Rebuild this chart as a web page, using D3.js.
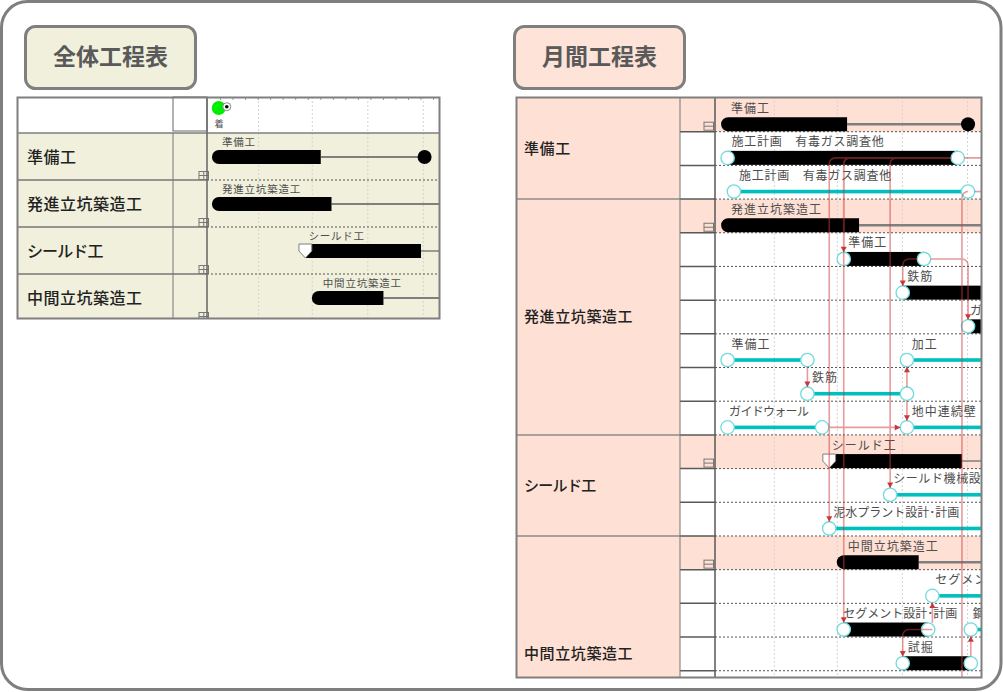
<!DOCTYPE html>
<html lang="ja">
<head>
<meta charset="utf-8">
<title>工程表</title>
<script src="https://cdn.jsdelivr.net/npm/d3@7"></script>
<style>
  html, body { margin: 0; padding: 0; background: #fff; }
  svg { display: block; }
  text { font-family: "Noto Sans CJK JP", "Noto Sans", sans-serif; }
</style>
</head>
<body>
<svg id="chart" width="1003" height="692"></svg>
<script>
// data, all times in days from the start of the schedule
const monthDays = [28, 58, 89, 120];

const overallNames = ['準備工', '発進立坑築造工', 'シールド工', '中間立坑築造工'];
const overallStarts = [2.2, 2.2, 54.4, 58];
const overallDone = [63, 69, 119, 98];
const overallEnds = [121, 140, 140, 140];
const overallKinds = ['round', 'round', 'shield', 'round'];
const overallStartMark = 6;
const overallTargetMark = 10.5;
const overallStartLabel = '着';

const monthlyGroups = ['準備工', '発進立坑築造工', 'シールド工', '中間立坑築造工'];
const monthlyGroupRows = [3, 7, 3, 7];

const summaryRows = [0, 3, 10, 13];
const summaryNames = ['準備工', '発進立坑築造工', 'シールド工', '中間立坑築造工'];
const summaryStarts = [2.9, 2.9, 54.4, 58];
const summaryDone = [62.9, 68.6, 117.6, 97];
const summaryEnds = [120.5, 140, 140, 140];
const summaryKinds = ['round', 'round', 'shield', 'round'];

const taskRows = [1, 2, 4, 5, 6, 7, 7, 8, 9, 9, 11, 12, 14, 15, 15, 16];
const taskNames = ['施工計画　有毒ガス調査他', '施工計画　有毒ガス調査他', '準備工', '鉄筋', 'ガ', '準備工', '加工', '鉄筋',
  'ガイドウォール', '地中連続壁', 'シールド機械設', '泥水プラント設計･計画', 'セグメン', 'セグメント設計･計画', '鋼', '試掘'];
const taskStarts = [6, 9, 61.3, 89.4, 120.5, 6, 91.4, 44, 6, 91.4, 83.4, 54.4, 103.5, 61.3, 121.8, 89.4];
const taskEnds = [115.6, 120.5, 99.5, 140, 140, 44, 140, 91.4, 51, 140, 140, 140, 140, 101.5, 140, 121.8];
const taskKinds = ['actual', 'plan', 'actual', 'actual', 'actual', 'plan', 'plan', 'plan', 'plan', 'plan', 'plan', 'plan',
  'plan', 'actual', 'plan', 'actual'];

// from day, from row, to day, to row, arrow head
const links = [
  [112.4, 1, 54.4, 12, true],
  [112.4, 1, 61.3, 4, true],
  [112.4, 1, 61.3, 15, true],
  [112.4, 1, 83.4, 11, true],
  [115.6, 1, 140, 1, false],
  [120.5, 2, 140, 2, false],
  [120.5, 2, 117.6, 18, false],
  [96.3, 4, 89.4, 5, true],
  [102.7, 4, 120.5, 6, true],
  [44, 7, 44, 8, true],
  [91.4, 8, 91.4, 7, true],
  [91.4, 8, 91.4, 9, true],
  [51, 9, 91.4, 9, true],
  [103.5, 15, 103.5, 14, true],
  [103.5, 15, 89.4, 16, true],
  [121.8, 16, 121.8, 15, true]
];

// layout
const overallPanel = {x0: 17, x1: 173, x2: 207, x3: 440, y0: 97, y1: 319, head: 133};
const monthlyPanel = {x0: 516, x1: 680, x2: 715, x3: 982, y0: 97, y1: 678, rowTop: 98};
const overallLabelDx = [10, 10, 3, 11];
const overallNameSpacing = [0.5, 0.5, -0.9, 0.5];
const summaryLabelDx = [10, 10, 2.5, 11];
const monthlyNameSpacing = [0.6, 0.6, -0.7, 0.6];
const taskLabelDx = [4, 5, 4.5, 4.5, 2, 4, 4.7, 4.5, 1.5, 4.7, 3, 4, 3, -0.5, 2, 5];
const taskLabelSpacing = [0.75, 0.75, 1, 1, 1, 1, 1, 1, -0.7, 1, 0.6, 0, 1, 0, 1, 1];
const beige = '#f0f0dc';
const salmon = '#ffe0d4';
const frameGrey = '#7f7f7f';
const lineGrey = '#595959';
const circleR = 6.7;

const svg = d3.select('#chart');
const defs = svg.append('defs');

const xOverall = d3.scaleLinear().domain([0, 120]).range([208, 422.8]);
const yOverall = d3.scaleLinear().domain([0, 1]).range([overallPanel.head, overallPanel.head + 47]);
const xMonthly = d3.scaleLinear().domain([0, 120]).range([715, 967]);
const yMonthly = d3.scaleLinear().domain([0, 1]).range([monthlyPanel.rowTop, monthlyPanel.rowTop + 33.69]);
const barY = r => yMonthly(r + 1) - 7.5;
const overallBarY = r => yOverall(r) + 24;

defs.append('clipPath').attr('id', 'clip-overall').append('rect')
  .attr('x', overallPanel.x2).attr('y', overallPanel.y0)
  .attr('width', overallPanel.x3 - overallPanel.x2 - 1).attr('height', overallPanel.y1 - overallPanel.y0);
defs.append('clipPath').attr('id', 'clip-monthly').append('rect')
  .attr('x', monthlyPanel.x2).attr('y', monthlyPanel.y0)
  .attr('width', monthlyPanel.x3 - monthlyPanel.x2 - 1).attr('height', monthlyPanel.y1 - monthlyPanel.y0);
defs.append('clipPath').attr('id', 'clip-overall-all').append('rect')
  .attr('x', overallPanel.x0).attr('y', overallPanel.y0)
  .attr('width', overallPanel.x3 - overallPanel.x0).attr('height', overallPanel.y1 - overallPanel.y0);

// outer frame
svg.append('rect')
  .attr('x', 1.5).attr('y', 1.5).attr('width', 999.5).attr('height', 688)
  .attr('rx', 26).attr('fill', '#fff').attr('stroke', frameGrey).attr('stroke-width', 3);

function titleBox(x, fill, label) {
  svg.append('rect')
    .attr('x', x).attr('y', 26.5).attr('width', 170).attr('height', 62).attr('rx', 10)
    .attr('fill', fill).attr('stroke', frameGrey).attr('stroke-width', 3);
  svg.append('text')
    .attr('x', x + 85).attr('y', 64.5).attr('text-anchor', 'middle')
    .attr('font-size', 23).attr('font-weight', 700).attr('fill', '#595959')
    .text(label);
}
titleBox(25.5, beige, '全体工程表');
titleBox(514.5, '#fde3d8', '月間工程表');

function hLine(g, x0, x1, y, stroke, width, dash) {
  g.append('line').attr('x1', x0).attr('x2', x1).attr('y1', y).attr('y2', y)
    .attr('stroke', stroke).attr('stroke-width', width).attr('stroke-dasharray', dash || null);
}
function vLine(g, x, y0, y1, stroke, width) {
  g.append('line').attr('x1', x).attr('x2', x).attr('y1', y0).attr('y2', y1)
    .attr('stroke', stroke).attr('stroke-width', width);
}

// month grid is an axis with long ticks and no labels
function monthGrid(g, x, top, bottom) {
  const axis = g.append('g')
    .attr('transform', `translate(0,${top})`)
    .call(d3.axisBottom(x).tickValues(monthDays).tickSize(bottom - top).tickFormat(''));
  axis.select('.domain').remove();
  axis.selectAll('line').attr('stroke', '#d4d4d4').attr('stroke-dasharray', '2,2');
}

function expander(g, x, y, split) {
  g.append('rect').attr('x', x).attr('y', y).attr('width', 9.5).attr('height', 8)
    .attr('fill', 'none').attr('stroke', '#777').attr('stroke-width', 1);
  hLine(g, x, x + 9.5, y + 4, '#777', 1);
  if (split) vLine(g, x + 4.75, y, y + 8, '#777', 1);
}

// summary bar: rounded or shield shaped head, then a thin line to the end date
function summaryBar(g, x, y, start, done, end, kind, lineWidth) {
  const x0 = x(start), x1 = x(done), h = 7;
  if (kind === 'shield') {
    hLine(g, x1, x(end), y, frameGrey, 1.5);
    g.append('rect').attr('x', x0).attr('y', y - h).attr('width', x1 - x0).attr('height', h * 2).attr('fill', '#000');
    const s = 6.4;
    g.append('path')
      .attr('d', `M${x0 - s},${y - h}H${x0 + s}V${y}L${x0},${y + h}L${x0 - s},${y}Z`)
      .attr('fill', '#fff').attr('stroke', frameGrey).attr('stroke-width', 1);
  } else {
    hLine(g, x1, x(end), y, frameGrey, lineWidth);
    g.append('path')
      .attr('d', `M${x1},${y - h}H${x0 + h}A${h},${h} 0 0 0 ${x0 + h},${y + h}H${x1}Z`)
      .attr('fill', '#000');
    if (end < 130) g.append('circle').attr('cx', x(end)).attr('cy', y).attr('r', h).attr('fill', '#000');
  }
}

function smallLabel(g, x, y, size, spacing, label) {
  g.append('text').attr('x', x).attr('y', y)
    .attr('font-size', size).attr('letter-spacing', spacing).attr('fill', '#4d4d4d')
    .text(label);
}

function drawOverall() {
  const p = overallPanel;
  const g = svg.append('g');
  g.append('rect').attr('x', p.x0).attr('y', p.y0).attr('width', p.x3 - p.x0).attr('height', p.y1 - p.y0).attr('fill', '#fff');
  g.append('rect').attr('x', p.x0).attr('y', p.head).attr('width', p.x3 - p.x0).attr('height', p.y1 - p.head).attr('fill', beige);
  g.append('rect').attr('x', p.x1).attr('y', p.y0).attr('width', p.x2 - p.x1).attr('height', 34)
    .attr('fill', '#fff').attr('stroke', '#666').attr('stroke-width', 1);

  monthGrid(g, xOverall, p.y0, p.y1);

  // week ticks along the top edge
  g.selectAll('.week').data(d3.range(7, 130, 7)).join('line')
    .attr('x1', d => xOverall(d)).attr('x2', d => xOverall(d))
    .attr('y1', p.y0).attr('y2', p.y0 + 3).attr('stroke', '#999').attr('stroke-width', 1);

  overallNames.forEach((name, i) => {
    const bottom = yOverall(i + 1);
    g.append('text').attr('x', 27).attr('y', yOverall(i) + 29.5)
      .attr('font-size', 16).attr('letter-spacing', overallNameSpacing[i]).attr('font-weight', 500).attr('fill', '#222')
      .text(name);
    if (i < overallNames.length - 1) {
      hLine(g, p.x0, p.x2, bottom, '#777', 1.5);
      hLine(g, p.x2, p.x3, bottom, '#555', 1, '2,2');
    }
    const clip = g.append('g').attr('clip-path', 'url(#clip-overall-all)');
    expander(clip, p.x2 - 8, bottom - 8.5, true);
  });
  hLine(g, p.x0, p.x3, p.head, frameGrey, 1.5);
  vLine(g, p.x1, p.head, p.y1, '#777', 1);

  const marks = g.append('g').attr('clip-path', 'url(#clip-overall)');
  overallNames.forEach((name, i) => {
    summaryBar(marks, xOverall, overallBarY(i), overallStarts[i], overallDone[i], overallEnds[i], overallKinds[i], 2);
    smallLabel(marks, xOverall(overallStarts[i]) + overallLabelDx[i], overallBarY(i) - 11, 10.5, 0.8, name);
  });

  marks.append('circle').attr('cx', xOverall(overallStartMark)).attr('cy', 108).attr('r', 7).attr('fill', '#00ee00');
  marks.append('circle').attr('cx', xOverall(overallTargetMark)).attr('cy', 106.7).attr('r', 4)
    .attr('fill', '#fff').attr('stroke', '#888').attr('stroke-width', 1);
  marks.append('circle').attr('cx', xOverall(overallTargetMark)).attr('cy', 106.7).attr('r', 1.8).attr('fill', '#000');
  smallLabel(marks, xOverall(overallStartMark) - 4.5, 127, 9.5, 0, overallStartLabel);

  vLine(g, p.x2, p.y0, p.y1, '#666', 1.5);
  g.append('rect').attr('x', p.x0 + 0.5).attr('y', p.y0 + 0.5).attr('width', p.x3 - p.x0 - 1).attr('height', p.y1 - p.y0 - 1)
    .attr('fill', 'none').attr('stroke', frameGrey).attr('stroke-width', 2);
}

function linkPath(l) {
  const [d0, r0, d1, r1] = l;
  const x0 = xMonthly(d0), x1 = xMonthly(d1), y0 = barY(r0), y1 = barY(r1);
  const path = d3.path();
  if (r0 === r1) {
    const dir = x1 > x0 ? 1 : -1;
    path.moveTo(x0 + dir * circleR, y0);
    path.lineTo(x1 - dir * circleR, y0);
  } else if (d0 === d1) {
    const dir = y1 > y0 ? 1 : -1;
    path.moveTo(x0, y0 + dir * circleR);
    path.lineTo(x0, y1 - dir * circleR);
  } else {
    const dir = y1 > y0 ? 1 : -1;
    path.moveTo(x0, y0);
    path.arcTo(x1, y0, x1, y1, 6);
    path.lineTo(x1, y1 - dir * circleR);
  }
  return path.toString();
}

function arrowTransform(l) {
  const [d0, r0, d1, r1] = l;
  const x1 = xMonthly(d1), y1 = barY(r1);
  if (r0 === r1) {
    const dir = d1 > d0 ? 1 : -1;
    return `translate(${x1 - dir * circleR},${y1}) rotate(${dir > 0 ? -90 : 90})`;
  }
  const dir = r1 > r0 ? 1 : -1;
  return `translate(${x1},${y1 - dir * circleR}) rotate(${dir > 0 ? 0 : 180})`;
}

function drawMonthly() {
  const p = monthlyPanel;
  const g = svg.append('g');
  g.append('rect').attr('x', p.x0).attr('y', p.y0).attr('width', p.x3 - p.x0).attr('height', p.y1 - p.y0).attr('fill', '#fff');
  g.append('rect').attr('x', p.x0).attr('y', p.y0).attr('width', p.x1 - p.x0).attr('height', p.y1 - p.y0).attr('fill', salmon);
  summaryRows.forEach(r => {
    g.append('rect').attr('x', p.x1).attr('y', yMonthly(r)).attr('width', p.x3 - p.x1).attr('height', yMonthly(r + 1) - yMonthly(r))
      .attr('fill', salmon);
  });

  monthGrid(g, xMonthly, p.y0, p.y1);

  d3.range(1, 18).forEach(r => {
    hLine(g, p.x1, p.x2, yMonthly(r), lineGrey, 1.5);
    hLine(g, p.x2, p.x3, yMonthly(r), '#555', 1, '2,2');
  });

  let first = 0;
  monthlyGroups.forEach((name, i) => {
    const last = first + monthlyGroupRows[i];
    if (first > 0) hLine(g, p.x0, p.x1, yMonthly(first), '#8c8c8c', 1.5);
    g.append('text').attr('x', 524).attr('y', (yMonthly(first) + yMonthly(last)) / 2 + 5.5)
      .attr('font-size', 15).attr('letter-spacing', monthlyNameSpacing[i]).attr('font-weight', 500).attr('fill', '#222')
      .text(name);
    first = last;
  });
  vLine(g, p.x1, p.y0, p.y1, '#777', 1);

  summaryRows.forEach(r => expander(g, p.x2 - 11, yMonthly(r + 1) - 9.5, false));

  const marks = g.append('g').attr('clip-path', 'url(#clip-monthly)');
  summaryRows.forEach((r, i) => {
    summaryBar(marks, xMonthly, barY(r), summaryStarts[i], summaryDone[i], summaryEnds[i], summaryKinds[i], 2.5);
    smallLabel(marks, xMonthly(summaryStarts[i]) + summaryLabelDx[i], barY(r) - 11.5, 12, 1, summaryNames[i]);
  });

  taskRows.forEach((r, i) => {
    const x0 = xMonthly(taskStarts[i]), x1 = xMonthly(taskEnds[i]), y = barY(r);
    if (taskKinds[i] === 'actual') {
      marks.append('rect').attr('x', x0).attr('y', y - 7).attr('width', x1 - x0).attr('height', 14).attr('fill', '#000');
    } else {
      marks.append('rect').attr('x', x0).attr('y', y - 1.8).attr('width', x1 - x0).attr('height', 3.6).attr('fill', '#00bfbf');
    }
    smallLabel(marks, x0 + taskLabelDx[i], y - 11.5, 12, taskLabelSpacing[i], taskNames[i]);
    const ends = taskEnds[i] < 130 ? [x0, x1] : [x0];
    ends.forEach(cx => {
      marks.append('circle').attr('cx', cx).attr('cy', y).attr('r', circleR)
        .attr('fill', '#fff').attr('stroke', '#70dcdc').attr('stroke-width', 1.3);
    });
  });

  // links share one group opacity so that overlaps stay even
  const linkLayer = marks.append('g').attr('opacity', 0.5);
  linkLayer.selectAll('path').data(links).join('path')
    .attr('d', linkPath).attr('fill', 'none').attr('stroke', '#cc3c3c').attr('stroke-width', 1.6);
  marks.append('g').selectAll('path').data(links.filter(l => l[4])).join('path')
    .attr('d', 'M0,0L-3,-5.5L3,-5.5Z')
    .attr('transform', arrowTransform)
    .attr('fill', '#c8383a');

  vLine(g, p.x2, p.y0, p.y1, lineGrey, 1.5);
  g.append('rect').attr('x', p.x0 + 0.5).attr('y', p.y0 + 0.5).attr('width', p.x3 - p.x0 - 1).attr('height', p.y1 - p.y0 - 1)
    .attr('fill', 'none').attr('stroke', frameGrey).attr('stroke-width', 2);
}

drawOverall();
drawMonthly();
</script>
</body>
</html>
